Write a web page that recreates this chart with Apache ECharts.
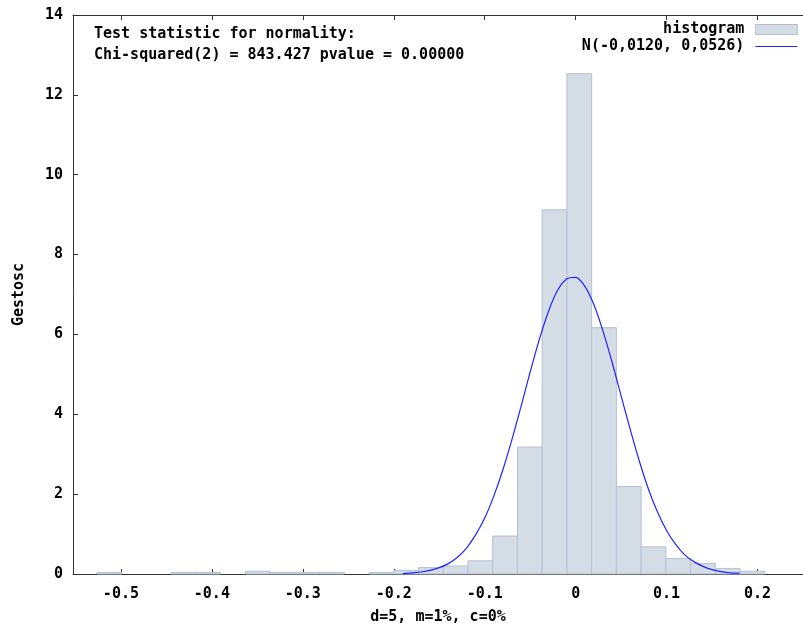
<!DOCTYPE html>
<html><head><meta charset="utf-8">
<script src="https://cdn.jsdelivr.net/npm/echarts@6/dist/echarts.min.js"></script>
<style>html,body{margin:0;padding:0;background:#fff}#c{width:803px;height:630px}</style>
</head><body><div id="c"></div>
<script>
// Histogram bins (centres) and density heights
const binCenters = [-0.5128,-0.4856,-0.4584,-0.4312,-0.4040,-0.3768,-0.3496,-0.3224,-0.2952,-0.2680,
  -0.2408,-0.2136,-0.1864,-0.1592,-0.1320,-0.1048,-0.0776,-0.0504,-0.0232,0.0040,
  0.0312,0.0584,0.0856,0.1128,0.1400,0.1672,0.1944];
const binWidth = 0.0272;
const density = [0.04,0,0,0.04,0.04,0,0.07,0.04,0.04,0.04,
  0,0.04,0.09,0.16,0.20,0.33,0.95,3.18,9.12,12.53,
  6.17,2.19,0.68,0.39,0.26,0.14,0.07];
// Normal curve points
const curveX = [-0.19,-0.18,-0.17,-0.16,-0.15,-0.14,-0.13,-0.12,-0.11,-0.10,-0.09,-0.08,-0.07,-0.06,-0.05,-0.04,-0.03,-0.02,-0.01,
  0.00,0.01,0.02,0.03,0.04,0.05,0.06,0.07,0.08,0.09,0.10,0.11,0.12,0.13,0.14,0.15,0.16,0.17,0.18];
const curveY = [0.01,0.03,0.05,0.09,0.16,0.26,0.42,0.65,0.98,1.40,1.95,2.61,3.37,4.20,5.06,5.87,6.57,7.10,7.39,
  7.43,7.21,6.75,6.09,5.31,4.46,3.62,2.83,2.13,1.55,1.09,0.74,0.48,0.31,0.19,0.11,0.06,0.03,0.02];
const xTickValues = [-0.5,-0.4,-0.3,-0.2,-0.1,0,0.1,0.2];
const xTickLabels = ['-0.5','-0.4','-0.3','-0.2','-0.1','0','0.1','0.2'];
const yTickLabels = ['0','2','4','6','8','10','12','14'];
const histName = 'histogram';
const curveName = 'N(-0,0120, 0,0526)';
const xName = 'd=5, m=1%, c=0%';
const yName = 'Gestosc';
const noteLines = ['Test statistic for normality:', 'Chi-squared(2) = 843.427 pvalue = 0.00000'];

const FONT = 'DejaVu Sans Mono';
const axisCol = '#333';
const histFill = '#d4dce6';
const histStroke = '#b3c2d2';
const curveCol = '#2222ff';

const chart = echarts.init(document.getElementById('c'), null, {renderer:'canvas'});
const histData = binCenters.map((c,i)=>[c-binWidth/2, c+binWidth/2, density[i]]).filter(d=>d[2]>0);
const curveData = curveX.map((x,i)=>[x, curveY[i]]);
const xLabelFmt = v => { const i = xTickValues.findIndex(t=>Math.abs(t-v)<1e-9); return i>=0 ? xTickLabels[i] : ''; };

chart.setOption({
  animation:false,
  backgroundColor:'#fff',
  textStyle:{fontFamily:FONT, fontWeight:'bold'},
  title:{
    text: noteLines.join('\n'),
    left: 89, top: 19,
    textStyle:{fontFamily:FONT, fontWeight:'bold', fontSize:15, color:'#000', lineHeight:21}
  },
  legend:{
    orient:'vertical', right:0, top:17, align:'right',
    itemWidth:42, itemHeight:10, itemGap:2,
    textStyle:{fontFamily:FONT, fontWeight:'bold', fontSize:15, color:'#000', padding:[0,6,0,0]},
    data:[
      {name:histName, icon:'rect', itemStyle:{color:histFill, borderColor:histStroke, borderWidth:1}},
      {name:curveName, itemStyle:{color:'rgba(0,0,0,0)', borderWidth:0}, lineStyle:{color:curveCol, width:1.2}}
    ]
  },
  grid:{left:73, right:-1, top:15, bottom:54, containLabel:false},
  xAxis:[{
    type:'value', min:-0.5527, max:0.25, position:'bottom',
    name:xName, nameLocation:'middle', nameGap:36,
    nameTextStyle:{fontFamily:FONT, fontWeight:'bold', fontSize:15, color:'#000'},
    axisLine:{show:true, onZero:false, lineStyle:{color:axisCol, width:1}},
    axisTick:{show:true, inside:true, length:5, customValues:xTickValues, lineStyle:{color:axisCol}},
    axisLabel:{show:true, customValues:xTickValues, formatter:xLabelFmt, margin:13,
      fontFamily:FONT, fontWeight:'bold', fontSize:15, color:'#000'},
    splitLine:{show:false}
  },{
    type:'value', min:-0.5527, max:0.25, position:'top',
    axisLine:{show:true, onZero:false, lineStyle:{color:axisCol, width:1}},
    axisTick:{show:true, inside:true, length:5, customValues:xTickValues, lineStyle:{color:axisCol}},
    axisLabel:{show:false},
    splitLine:{show:false}
  }],
  yAxis:{
    type:'value', min:0, max:14, interval:2,
    name:yName, nameLocation:'middle', nameGap:46, nameRotate:90,
    nameTextStyle:{fontFamily:FONT, fontWeight:'bold', fontSize:15, color:'#000'},
    axisLine:{show:true, onZero:false, lineStyle:{color:axisCol, width:1}},
    axisTick:{show:true, inside:true, length:5, lineStyle:{color:axisCol}},
    axisLabel:{margin:10, fontFamily:FONT, fontWeight:'bold', fontSize:15, color:'#000',
      formatter:v=>yTickLabels[Math.round(v/2)]},
    splitLine:{show:false}
  },
  series:[{
    name:histName, type:'custom', xAxisIndex:0,
    itemStyle:{color:histFill, borderColor:histStroke, borderWidth:1},
    encode:{x:[0,1], y:2},
    data:histData,
    renderItem:(params, api)=>{
      const p0 = api.coord([api.value(0), api.value(2)]);
      const p1 = api.coord([api.value(1), 0]);
      return {type:'rect', shape:{x:p0[0], y:p0[1], width:p1[0]-p0[0], height:p1[1]-p0[1]},
        style:{fill:histFill, stroke:histStroke, lineWidth:1}};
    }
  },{
    name:curveName, type:'line', xAxisIndex:0, data:curveData, symbol:'none', smooth:0.3,
    lineStyle:{color:curveCol, width:1.2}, itemStyle:{color:curveCol}, z:5
  }]
});
</script></body></html>
